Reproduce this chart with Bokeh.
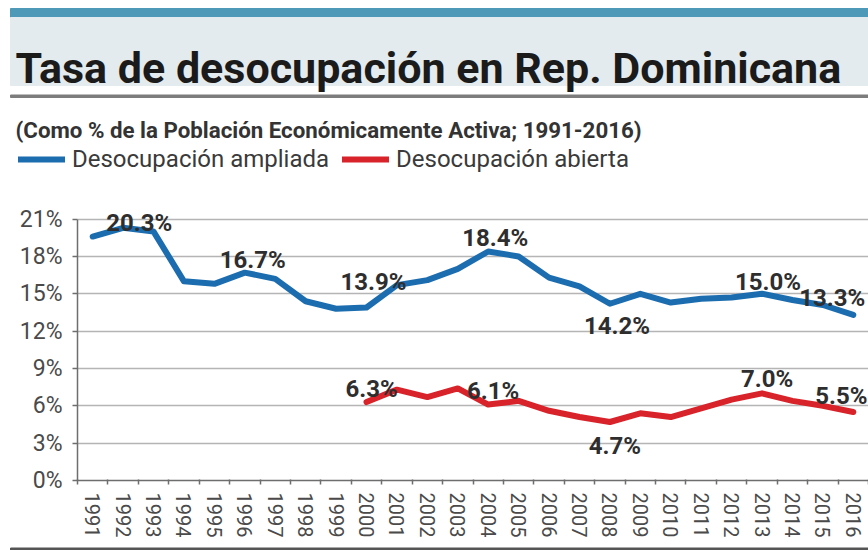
from bokeh.plotting import figure
from bokeh.models import (ColumnDataSource, FixedTicker, Legend, LegendItem, Range1d)
from bokeh.layouts import column
from bokeh.embed import file_html
from bokeh.resources import INLINE
from bokeh.core.properties import value

# ---------------- data ----------------
years = list(range(1991, 2017))
year_labels = [str(y) for y in years]
ampliada = [19.6, 20.3, 20.0, 16.0, 15.8, 16.7, 16.2, 14.4, 13.8, 13.9, 15.7, 16.1, 17.0,
            18.4, 18.0, 16.3, 15.6, 14.2, 15.0, 14.3, 14.6, 14.7, 15.0, 14.5, 14.1, 13.3]
abierta_years = list(range(2000, 2017))
abierta = [6.3, 7.3, 6.7, 7.4, 6.1, 6.4, 5.6, 5.1, 4.7, 5.4, 5.1, 5.8, 6.5, 7.0, 6.4, 6.0, 5.5]

y_ticks = [0, 3, 6, 9, 12, 15, 18, 21]
y_tick_labels = ["0%", "3%", "6%", "9%", "12%", "15%", "18%", "21%"]

title_text = "Tasa de desocupación en Rep. Dominicana"
subtitle_text = "(Como % de la Población Económicamente Activa; 1991-2016)"
series_names = ["Desocupación ampliada", "Desocupación abierta"]

# years that carry a value label
amp_label_years = [1992, 1996, 2000, 2004, 2008, 2013, 2016]
abi_label_years = [2000, 2004, 2008, 2013, 2016]

# label placement (pixel offsets from the point)
amp_dx = [16, 8, 7, 7, 7, 6, -21]
amp_dy = [-5, -13, -25, -13, 22, -12, -17]
abi_dx = [5, 5, 5, 5, -12]
abi_dy = [-13, -14, 24, -14, -16]

BLUE = "#1c6db0"
RED = "#d8232a"
W = 868
HEAD_H = 190


def bare(fig):
    fig.min_border_left = fig.min_border_right = 0
    fig.min_border_top = fig.min_border_bottom = 0
    fig.outline_line_color = None
    fig.grid.visible = False
    fig.frame_align = False
    return fig


# ---------------- header ----------------
header = bare(figure(width=W, height=HEAD_H, x_range=Range1d(0, W), y_range=Range1d(HEAD_H, 0),
                     output_backend="svg", toolbar_location=None,
                     x_axis_type=None, y_axis_type=None, min_border=0))
header.quad(left=[10], right=[W], top=[8], bottom=[17], color="#4d99b7")
header.quad(left=[10], right=[W], top=[17], bottom=[85], color="#e4ebee")
header.quad(left=[10], right=[W], top=[94.5], bottom=[97], color="#7d7d7d")
header.text(x=[15], y=[67], text=[title_text], text_font=value("Roboto"),
            text_font_style="bold", text_font_size="43px", text_color="#1b1b1b",
            text_baseline="alphabetic")
header.text(x=[15], y=[129], text=[subtitle_text], text_font=value("Roboto"),
            text_font_style="bold", text_font_size="22.3px", text_color="#333333",
            text_baseline="alphabetic")

# legend keys (styled like the chart's series lines; kept outside the visible range)
k_amp = header.line(x=[-50, -40], y=[-50, -50], line_color=BLUE, line_width=6, line_cap="round")
k_abi = header.line(x=[-50, -40], y=[-50, -50], line_color=RED, line_width=6, line_cap="round")
legend = Legend(items=[LegendItem(label=series_names[0], renderers=[k_amp]),
                       LegendItem(label=series_names[1], renderers=[k_abi])],
                orientation="horizontal", location=(18, HEAD_H - 173),
                glyph_width=47, glyph_height=24, label_height=24, label_standoff=7,
                spacing=13, padding=0, margin=0,
                border_line_color=None, background_fill_alpha=0,
                label_text_font="Roboto", label_text_font_size="24px",
                label_text_color="#3a3a3a")
header.add_layout(legend)

# ---------------- main chart ----------------
p = figure(width=W, height=350, x_range=Range1d(1990.5, 2016.5), y_range=Range1d(0, 23.30),
           output_backend="svg", toolbar_location=None)
p.frame_align = False
p.min_border_left = 77
p.min_border_right = 0
p.min_border_top = 0
p.min_border_bottom = 58
p.outline_line_color = None
p.xgrid.visible = False
p.ygrid.ticker = FixedTicker(ticks=y_ticks)
p.ygrid.grid_line_color = "#b5b5b5"
p.ygrid.grid_line_width = 1.5

ya = p.yaxis[0]
ya.ticker = FixedTicker(ticks=y_ticks)
ya.major_label_overrides = dict(zip(y_ticks, y_tick_labels))
ya.bounds = (0, 21)
ya.axis_line_color = "#6e6e6e"
ya.axis_line_width = 1.5
ya.major_tick_line_color = "#6e6e6e"
ya.major_tick_line_width = 1.5
ya.major_tick_out = 5
ya.major_tick_in = 0
ya.minor_tick_line_color = None
ya.major_label_standoff = 10
ya.major_label_text_font = "Roboto"
ya.major_label_text_font_size = "23px"
ya.major_label_text_color = "#4a4a4a"

xa = p.xaxis[0]
xa.ticker = FixedTicker(ticks=years, minor_ticks=[y - 0.5 for y in years] + [years[-1] + 0.5])
xa.major_label_overrides = dict(zip(years, year_labels))
xa.axis_line_color = "#6e6e6e"
xa.axis_line_width = 1.5
xa.major_tick_line_color = None
xa.major_tick_out = 0
xa.major_tick_in = 0
xa.minor_tick_line_color = "#6e6e6e"
xa.minor_tick_line_width = 1.5
xa.minor_tick_out = 4
xa.minor_tick_in = 1
xa.major_label_orientation = "vertical"
xa.major_label_standoff = 8
xa.major_label_text_font = "Roboto"
xa.major_label_text_font_size = "20px"
xa.major_label_text_color = "#4a4a4a"

p.line(years, ampliada, line_color=BLUE, line_width=6, line_join="round", line_cap="round")
p.line(abierta_years, abierta, line_color=RED, line_width=6, line_join="round", line_cap="round")


def label_source(lyears, xs, ys, dxs, dys):
    vals = [ys[xs.index(y)] for y in lyears]
    return ColumnDataSource(dict(x=lyears, y=vals, t=[f"{v:.1f}%" for v in vals], dx=dxs, dy=dys))


for src in (label_source(amp_label_years, years, ampliada, amp_dx, amp_dy),
            label_source(abi_label_years, abierta_years, abierta, abi_dx, abi_dy)):
    p.text(x="x", y="y", text="t", x_offset="dx", y_offset="dy", source=src,
           text_font=value("Roboto"), text_font_style="bold",
           text_font_size="24px", text_color="#2e2e2e",
           text_align="center", text_baseline="alphabetic")

# ---------------- footer rule ----------------
footer = bare(figure(width=W, height=10, x_range=Range1d(0, W), y_range=Range1d(10, 0),
                     output_backend="svg", toolbar_location=None,
                     x_axis_type=None, y_axis_type=None, min_border=0))
footer.quad(left=[10], right=[W], top=[5.5], bottom=[8], color="#555555")

layout = column(header, p, footer, spacing=0)
open("out.html", "w").write(file_html(layout, INLINE))
